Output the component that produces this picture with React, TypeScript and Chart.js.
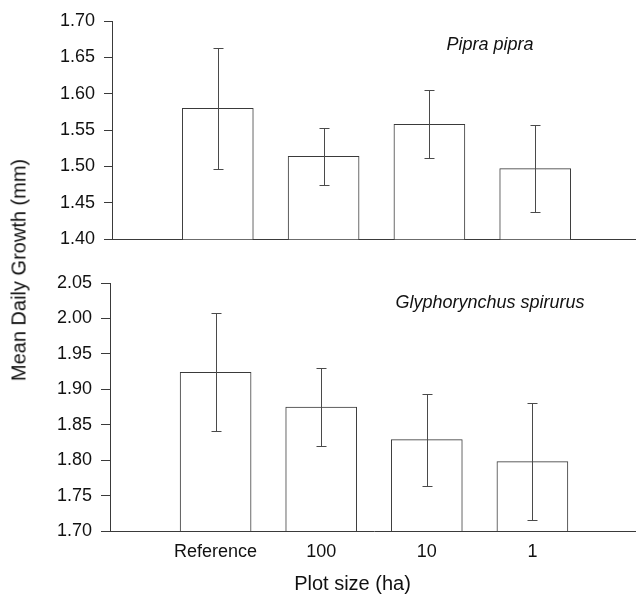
import React, { useEffect, useRef } from 'react';
import { Chart, registerables } from 'chart.js';

Chart.register(...registerables);

// ---- data ----
const CATEGORIES = ['Reference', '100', '10', '1'];
const PIPRA_MEANS = [1.58, 1.514, 1.558, 1.497];
const PIPRA_SE = [0.083, 0.039, 0.047, 0.06];
const PIPRA_TICKS = [1.4, 1.45, 1.5, 1.55, 1.6, 1.65, 1.7];
const GLYPH_MEANS = [1.924, 1.875, 1.829, 1.798];
const GLYPH_SE = [0.083, 0.055, 0.065, 0.082];
const GLYPH_TICKS = [1.7, 1.75, 1.8, 1.85, 1.9, 1.95, 2.0, 2.05];
const PIPRA_NAME = 'Pipra pipra';
const GLYPH_NAME = 'Glyphorynchus spirurus';
const Y_TITLE = 'Mean Daily Growth (mm)';
const X_TITLE = 'Plot size (ha)';

const FONT = 'Arial, "Liberation Sans", Helvetica, sans-serif';
const LINE = '#3a3a3a';
const TEXT = '#111';

type PanelProps = {
  top: number;
  width: number;
  height: number;
  yWidth: number;
  padTop: number;
  xHeight: number;
  tickLen: number;
  showX: boolean;
  means: number[];
  errors: number[];
  ticks: number[];
  species: string;
  speciesX: number;
  speciesY: number;
};

function Panel(props: PanelProps) {
  const ref = useRef<HTMLCanvasElement>(null);
  useEffect(() => {
    const canvas = ref.current!;
    const labels = ['', ...CATEGORIES, ''];
    const data = [null, ...props.means, null];
    const errorPlugin = {
      id: 'errorBars',
      afterDatasetsDraw(chart: any) {
        const { ctx } = chart;
        const xs = chart.scales.x;
        const ys = chart.scales.y;
        ctx.save();
        ctx.strokeStyle = '#4a4a4a';
        ctx.lineWidth = 1;
        props.means.forEach((m, i) => {
          const x = Math.round(xs.getPixelForValue(i + 1)) + 0.5;
          const yHi = Math.round(ys.getPixelForValue(m + props.errors[i])) + 0.5;
          const yLo = Math.round(ys.getPixelForValue(m - props.errors[i])) + 0.5;
          ctx.beginPath();
          ctx.moveTo(x, yHi);
          ctx.lineTo(x, yLo);
          ctx.moveTo(x - 5, yHi);
          ctx.lineTo(x + 5, yHi);
          ctx.moveTo(x - 5, yLo);
          ctx.lineTo(x + 5, yLo);
          ctx.stroke();
        });
        ctx.font = `italic 18px ${FONT}`;
        ctx.fillStyle = TEXT;
        ctx.textAlign = 'center';
        ctx.textBaseline = 'middle';
        ctx.fillText(props.species, props.speciesX, props.speciesY);
        ctx.restore();
      },
    };
    const chart = new Chart(canvas, {
      type: 'bar',
      data: {
        labels,
        datasets: [
          {
            data,
            backgroundColor: '#ffffff',
            borderColor: LINE,
            borderWidth: 1,
            barThickness: 71,
            borderSkipped: 'start',
          } as any,
        ],
      },
      options: {
        animation: false,
        responsive: false,
        events: [],
        layout: { padding: { top: props.padTop, left: 0, right: 0, bottom: 0 } },
        plugins: {
          legend: { display: false },
          tooltip: { enabled: false },
          title: { display: false },
        },
        scales: {
          x: {
            type: 'category',
            offset: false,
            grid: { display: true, drawOnChartArea: false, drawTicks: false },
            border: { display: true, color: LINE, width: 1 },
            ticks: {
              display: props.showX,
              font: { family: FONT, size: 18 },
              color: TEXT,
              padding: 10,
              autoSkip: false,
              maxRotation: 0,
            },
            afterFit: (s: any) => {
              s.height = props.xHeight;
            },
          },
          y: {
            type: 'linear',
            min: props.ticks[0],
            max: props.ticks[props.ticks.length - 1],
            afterBuildTicks: (s: any) => {
              s.ticks = props.ticks.map((v) => ({ value: v }));
            },
            ticks: {
              callback: (v: any) => Number(v).toFixed(2),
              font: { family: FONT, size: 18 },
              color: TEXT,
              padding: 9,
            },
            grid: {
              drawOnChartArea: false,
              drawTicks: true,
              tickLength: props.tickLen,
              color: LINE,
            },
            border: { display: true, color: LINE, width: 1 },
            afterFit: (s: any) => {
              s.width = props.yWidth;
            },
          },
        },
      } as any,
      plugins: [errorPlugin],
    });
    return () => chart.destroy();
  }, []);
  return (
    <canvas
      ref={ref}
      width={props.width}
      height={props.height}
      style={{ position: 'absolute', left: 0, top: props.top, display: 'block' }}
    />
  );
}

export default function App() {
  return (
    <div
      style={{
        position: 'absolute',
        left: 0,
        top: 0,
        width: 636,
        height: 597,
        overflow: 'hidden',
        background: '#fff',
      }}
    >
      <Panel
        top={0}
        width={641}
        height={259}
        yWidth={112}
        padTop={21}
        xHeight={11}
        tickLen={8}
        showX={false}
        means={PIPRA_MEANS}
        errors={PIPRA_SE}
        ticks={PIPRA_TICKS}
        species={PIPRA_NAME}
        speciesX={490}
        speciesY={45}
      />
      <Panel
        top={255}
        width={648}
        height={342}
        yWidth={110}
        padTop={28}
        xHeight={66}
        tickLen={9}
        showX={true}
        means={GLYPH_MEANS}
        errors={GLYPH_SE}
        ticks={GLYPH_TICKS}
        species={GLYPH_NAME}
        speciesX={490}
        speciesY={48}
      />
      <div
        style={{
          position: 'absolute',
          left: 19,
          top: 270,
          transform: 'translate(-50%, -50%) rotate(-90deg)',
          font: `20px ${FONT}`,
          color: TEXT,
          whiteSpace: 'nowrap',
        }}
      >
        {Y_TITLE}
      </div>
      <div
        style={{
          position: 'absolute',
          left: 352.5,
          top: 583,
          transform: 'translate(-50%, -50%)',
          font: `20px ${FONT}`,
          color: TEXT,
          whiteSpace: 'nowrap',
        }}
      >
        {X_TITLE}
      </div>
    </div>
  );
}
